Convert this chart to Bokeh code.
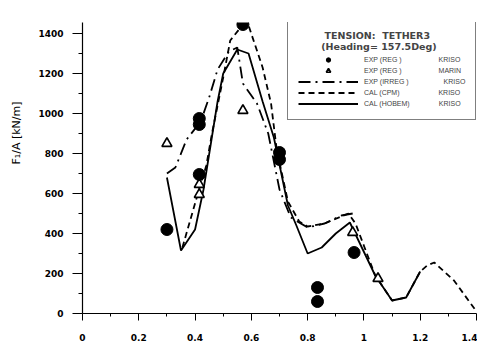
from bokeh.plotting import figure
from bokeh.models import Range1d, FixedTicker
from bokeh.embed import file_html
from bokeh.resources import INLINE

# ---- data ----
dots_x = [0.30, 0.415, 0.415, 0.415, 0.57, 0.70, 0.70, 0.835, 0.835, 0.965]
dots_y = [420, 945, 975, 695, 1445, 805, 770, 130, 60, 305]

tri_x = [0.30, 0.415, 0.415, 0.57, 0.96, 1.05]
tri_y = [850, 645, 595, 1015, 405, 175]

dashdot_x = [0.30, 0.33, 0.37, 0.42, 0.45, 0.48, 0.52, 0.55, 0.57, 0.62, 0.66, 0.70, 0.74, 0.80, 0.86, 0.92, 0.96]
dashdot_y = [700, 730, 870, 960, 1080, 1220, 1310, 1330, 1150, 1050, 900, 620, 480, 430, 450, 490, 500]

dashed_x = [0.355, 0.41, 0.44, 0.46, 0.50, 0.525, 0.57, 0.59, 0.64, 0.67, 0.69, 0.73, 0.77, 0.80, 0.86, 0.945, 0.97, 1.04, 1.10, 1.15, 1.20, 1.225, 1.25, 1.32, 1.40]
dashed_y = [330, 600, 740, 900, 1180, 1365, 1445, 1440, 1230, 1050, 820, 560, 460, 435, 450, 500, 450, 190, 65, 80, 210, 240, 255, 165, 10]

solid_x = [0.30, 0.35, 0.40, 0.43, 0.48, 0.50, 0.55, 0.59, 0.64, 0.68, 0.73, 0.76, 0.80, 0.85, 0.90, 0.95, 1.04, 1.10, 1.15, 1.20]
solid_y = [680, 315, 420, 620, 1060, 1200, 1320, 1300, 1060, 880, 540, 440, 300, 330, 400, 455, 190, 65, 80, 210]

x_ticks = [0, 0.2, 0.4, 0.6, 0.8, 1.0, 1.2, 1.4]
x_tick_labels = ["0", "0.2", "0.4", "0.6", "0.8", "1", "1.2", "1.4"]
x_minor = [0.1, 0.3, 0.5, 0.7, 0.9, 1.1, 1.3]
y_ticks = [0, 200, 400, 600, 800, 1000, 1200, 1400]
y_minor = [100, 300, 500, 700, 900, 1100, 1300]

legend_title = "\u00a0" * 8 + "TENSION:  TETHER3\n" + "\u00a0" * 7 + "(Heading= 157.5Deg)"
lab_dots = "EXP (REG )" + "\u00a0" * 19 + "KRISO"
lab_tri = "EXP (REG )" + "\u00a0" * 19 + "MARIN"
lab_dashdot = "EXP (IRREG )" + "\u00a0" * 18 + "KRISO"
lab_dashed = "CAL (CPM)" + "\u00a0" * 20 + "KRISO"
lab_solid = "CAL (HOBEM)" + "\u00a0" * 15 + "KRISO"
y_label = "F\u2081/A [kN/m]"

p = figure(width=477, height=346, output_backend="svg", toolbar_location=None,
           x_range=Range1d(0, 1.4), y_range=Range1d(0, 1455),
           min_border_left=82, min_border_right=1, min_border_top=22, min_border_bottom=33)
p.outline_line_color = None
p.grid.visible = False
p.background_fill_color = "white"

p.line(solid_x, solid_y, line_color="black", line_width=1.8, legend_label=lab_solid)
p.line(dashed_x, dashed_y, line_color="black", line_width=1.8, line_dash="6 4", legend_label=lab_dashed)
p.line(dashdot_x, dashdot_y, line_color="black", line_width=1.8, line_dash="12 5 2 5", legend_label=lab_dashdot)
p.scatter(tri_x, tri_y, marker="triangle", size=10, fill_color="white", line_color="black",
          line_width=1.6, legend_label=lab_tri)
p.scatter(dots_x, dots_y, marker="circle", size=12, fill_color="black", line_color="black",
          legend_label=lab_dots)

# axes
for ax in (p.xaxis[0], p.yaxis[0]):
    ax.axis_line_color = "black"
    ax.axis_line_width = 1.2
    ax.major_tick_line_color = "black"
    ax.minor_tick_line_color = "black"
    ax.major_tick_in = 0
    ax.minor_tick_in = 0
    ax.major_label_text_font = "DejaVu Sans"
    ax.major_label_text_font_style = "bold"
    ax.major_label_text_font_size = "9px"
    ax.major_label_text_color = "black"

p.xaxis.ticker = FixedTicker(ticks=x_ticks, minor_ticks=x_minor)
p.xaxis.major_label_overrides = {t: l for t, l in zip(x_ticks, x_tick_labels)}
p.xaxis.major_tick_out = 7
p.xaxis.minor_tick_out = 3
p.xaxis.major_label_standoff = 13

p.yaxis.ticker = FixedTicker(ticks=y_ticks, minor_ticks=y_minor)
p.yaxis.major_tick_out = 10
p.yaxis.minor_tick_out = 4
p.yaxis.major_label_standoff = 9
p.yaxis.axis_label = "\u00a0" * 20 + y_label
p.yaxis.axis_label_text_font = "DejaVu Sans"
p.yaxis.axis_label_text_font_style = "normal"
p.yaxis.axis_label_text_font_size = "11px"
p.yaxis.axis_label_text_color = "black"
p.yaxis.axis_label_standoff = 12

lg = p.legend[0]
lg.items = list(reversed(lg.items))
lg.location = (205, 193)
lg.title = legend_title
lg.title_text_font = "DejaVu Sans"
lg.title_text_font_style = "bold"
lg.title_text_font_size = "9.5px"
lg.title_standoff = 2
lg.label_text_font = "Liberation Sans"
lg.label_text_font_size = "7px"
lg.label_height = 11
lg.glyph_height = 11
lg.glyph_width = 60
lg.label_standoff = 6
lg.spacing = 0
lg.padding = 10
lg.margin = 0
lg.border_line_color = "black"
lg.border_line_width = 1.2
lg.background_fill_alpha = 1.0

open("out.html", "w").write(file_html(p, INLINE))
